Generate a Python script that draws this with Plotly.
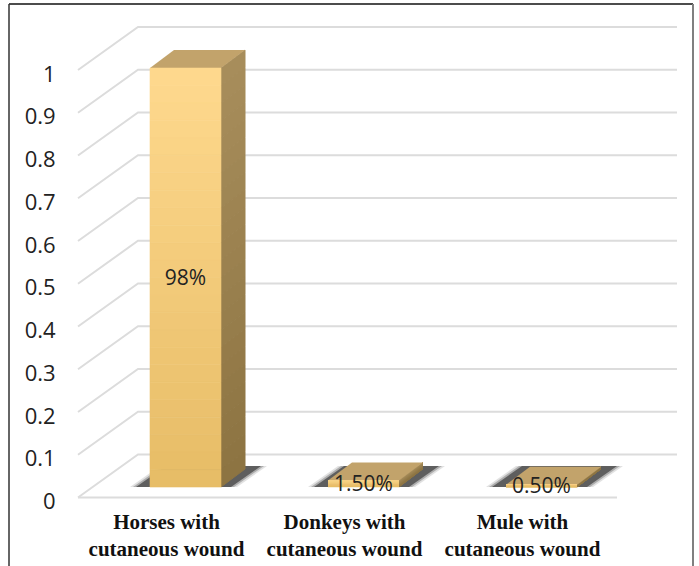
import plotly.graph_objects as go

categories = ["Horses with<br>cutaneous wound", "Donkeys with<br>cutaneous wound", "Mule with<br>cutaneous wound"]
values = [0.98, 0.015, 0.005]
value_labels = ["98%", "1.50%", "0.50%"]
y_ticks = [0, 0.1, 0.2, 0.3, 0.4, 0.5, 0.6, 0.7, 0.8, 0.9, 1]
y_tick_text = ["0", "0.1", "0.2", "0.3", "0.4", "0.5", "0.6", "0.7", "0.8", "0.9", "1"]

W, H = 699, 566
PX_X = 178.0   # pixels per category
PX_Y = 427.5   # pixels per unit of value
L, B = 62, 61
X0, Y0 = 185.5, 497.5  # pixel of category 0 and of value 0

BAR_W = 71 / PX_X
DX, DY = 24 / PX_X, 18 / PX_Y        # bar depth
BASE = 10.5 / PX_Y                   # bar base above the front floor line
WX, WY = 60 / PX_X, 43 / PX_Y        # wall depth
AX_L = (78 - X0) / PX_X
AX_R = (617 - X0) / PX_X

fig = go.Figure()


def poly(xs, ys, color, opacity=1.0, edge=0.0):
    fig.add_trace(go.Scatter(x=xs + xs[:1], y=ys + ys[:1], mode="lines", fill="toself",
                             fillcolor=color, line=dict(width=edge, color=color), opacity=opacity,
                             hoverinfo="skip", showlegend=False))


def mix(a, b, t):
    return "rgb(%d,%d,%d)" % tuple(round(a[i] + (b[i] - a[i]) * t) for i in range(3))


# gridlines on the side and back walls
for v in y_ticks:
    fig.add_trace(go.Scatter(x=[AX_L, AX_L + WX, AX_R + WX], y=[v, v + WY, v + WY], mode="lines",
                             line=dict(color="#DCDCDC", width=2), hoverinfo="skip", showlegend=False))
# front edge of the floor
fig.add_trace(go.Scatter(x=[AX_L, AX_R], y=[0, 0], mode="lines",
                         line=dict(color="#DCDCDC", width=2), hoverinfo="skip", showlegend=False))

FRONT_TOP, FRONT_BOT = (255, 217, 142), (230, 188, 102)
SIDE_TOP, SIDE_BOT = (168, 142, 92), (140, 115, 65)
TOP_COL = "#C2A36B"
N = 24

for i, v in enumerate(values):
    left, right = i - BAR_W / 2, i + BAR_W / 2
    b, t = BASE, BASE + v
    # floor shadow: a soft wide layer, then the darker core
    sy = 21 / PX_Y
    for grow, col, op in [(7, "#C4C4C4", 0.5), (4, "#8A8A8A", 0.6), (1, "#505050", 0.85)]:
        poly([left + (-13 - grow) / PX_X, right + (9 + grow) / PX_X,
              right + (39 + grow) / PX_X, left + (17 - grow) / PX_X],
             [b, b, b + sy, b + sy], col, op)
    # right side, graded strips
    for k in range(N):
        a0, a1 = k / N, (k + 1) / N
        y0, y1 = t - v * a0, t - v * a1
        col = mix(SIDE_TOP, SIDE_BOT, (a0 + a1) / 2)
        poly([right, right + DX, right + DX, right], [y0, y0 + DY, y1 + DY, y1], col, edge=1.0)
    # top face
    poly([left, left + DX, right + DX, right], [t, t + DY, t + DY, t], TOP_COL)
    # front face, graded strips
    for k in range(N):
        a0, a1 = k / N, (k + 1) / N
        col = mix(FRONT_TOP, FRONT_BOT, (a0 + a1) / 2)
        poly([left, right, right, left], [t - v * a0] * 2 + [t - v * a1] * 2, col, edge=0.6)

# value labels, centred on each front face
fig.add_trace(go.Scatter(x=list(range(len(values))), y=[BASE + v / 2 - 2 / PX_Y for v in values],
                         mode="text", text=value_labels, textposition="middle center",
                         textfont=dict(family="Open Sans", size=21, color="#222222"),
                         hoverinfo="skip", showlegend=False))

fig.update_layout(
    width=W, height=H, paper_bgcolor="white", plot_bgcolor="rgba(0,0,0,0)",
    margin=dict(l=L, r=0, t=0, b=B), showlegend=False,
    xaxis=dict(range=[(L - X0) / PX_X, (W - X0) / PX_X], tickmode="array",
               tickvals=[i - 19 / PX_X for i in range(len(categories))], ticktext=categories,
               showgrid=False, zeroline=False, showline=False, ticks="", ticklen=0,
               ticklabelstandoff=2,
               tickfont=dict(family="Liberation Serif", size=21, color="#111111", weight="bold")),
    yaxis=dict(range=[(Y0 - (H - B)) / PX_Y, Y0 / PX_Y], tickmode="array", tickvals=y_ticks,
               ticktext=y_tick_text, showgrid=False, zeroline=False, showline=False,
               ticks="outside", ticklen=1, tickcolor="rgba(0,0,0,0)", ticklabelshift=4,
               tickfont=dict(family="Open Sans", size=22, color="#222222")),
    shapes=[
        dict(type="line", xref="paper", yref="paper", x0=(9 - L) / (W - L), x1=(693 - L) / (W - L),
             y0=(H - B - 4) / (H - B), y1=(H - B - 4) / (H - B), line=dict(color="#111111", width=1.5)),
        dict(type="line", xref="paper", yref="paper", x0=(9 - L) / (W - L), x1=(9 - L) / (W - L),
             y0=-B / (H - B), y1=(H - B - 4) / (H - B), line=dict(color="#333333", width=1.5)),
        dict(type="line", xref="paper", yref="paper", x0=(693 - L) / (W - L), x1=(693 - L) / (W - L),
             y0=-B / (H - B), y1=(H - B - 4) / (H - B), line=dict(color="#808080", width=2)),
    ],
)
fig.update_xaxes(automargin=False)
fig.update_yaxes(automargin=False)
fig.write_html("out.html", config=dict(displayModeBar=False),
               post_script="document.body.style.margin='0';document.documentElement.style.overflow='hidden';")
